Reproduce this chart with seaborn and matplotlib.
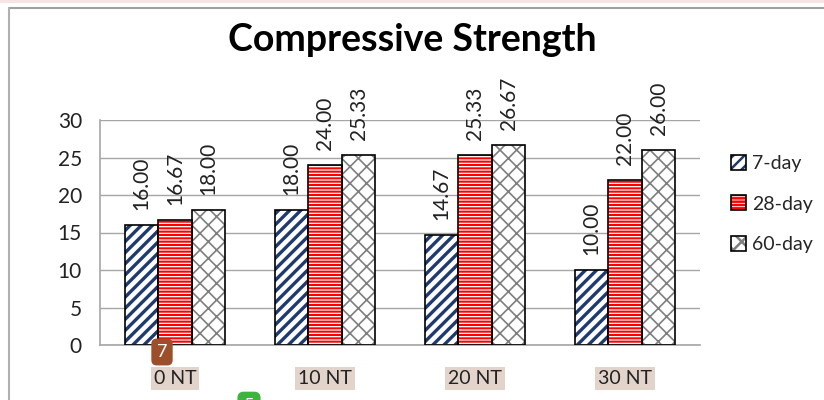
import numpy as np
import pandas as pd
import matplotlib.pyplot as plt
import seaborn as sns
from matplotlib.patches import Rectangle, Patch
from matplotlib.lines import Line2D
from matplotlib.legend_handler import HandlerTuple

mixes = ['0 NT', '10 NT', '20 NT', '30 NT']
ages = ['7-day', '28-day', '60-day']
day7 = [16.00, 18.00, 14.67, 10.00]
day28 = [16.67, 24.00, 25.33, 22.00]
day60 = [18.00, 25.33, 26.67, 26.00]

df = pd.DataFrame({
    'mix': mixes * 3,
    'age': np.repeat(ages, len(mixes)),
    'strength': day7 + day28 + day60,
})

# face colour, hatch colour, hatch pattern, hatch width per series
styles = [
    ('white', '#1F3A6E', '///', 2.4),
    ('white', '#FF0000', '-----', 1.5),
    ('white', '#7F7F7F', 'xx', 1.2),
]
GRID = '#A6A6A6'

sns.set_style('white')
plt.rcParams['font.family'] = ['Lato', 'DejaVu Sans']
plt.rcParams['hatch.linewidth'] = 1.8


def hatched(p, fc, hc, hatch, hw):
    p.set_facecolor(fc)
    p.set_edgecolor(hc)
    p.set_linewidth(0)
    p.set_hatch(hatch)
    if hasattr(p, 'set_hatch_linewidth'):
        p.set_hatch_linewidth(hw)
    return p


fig = plt.figure(figsize=(8.24, 4), dpi=100)
ax = fig.add_axes([100 / 824, 55 / 400, 600 / 824, 225 / 400])

sns.barplot(data=df, x='mix', y='strength', hue='age', hue_order=ages,
            width=0.67, gap=0, ax=ax, legend=False, errorbar=None)

handles = []
for cont, st in zip(ax.containers, styles):
    for p in cont.patches:
        hatched(p, *st)
        x, y = p.get_xy()
        ax.add_patch(Rectangle((x, y), p.get_width(), p.get_height(),
                               fill=False, edgecolor='black', linewidth=1.2, zorder=3))
    ax.bar_label(cont, fmt='%.2f', rotation=90, padding=11, fontsize=15,
                 color='#222222', clip_on=False)
    handles.append((hatched(Patch(), *st),
                    Patch(fill=False, edgecolor='black', linewidth=1.2)))

ax.set_ylim(0, 30)
ax.set_yticks(range(0, 31, 5))
ax.set_xlim(-0.5, 3.5)
ax.set_xlabel('')
ax.set_ylabel('')
ax.yaxis.grid(True, color=GRID, linewidth=1)
ax.set_axisbelow(True)
for s in ['top', 'right']:
    ax.spines[s].set_visible(False)
for s in ['left', 'bottom']:
    ax.spines[s].set_color(GRID)
    ax.spines[s].set_linewidth(1.2)
ax.tick_params(axis='y', length=6, color=GRID, labelsize=15, labelcolor='#222222', pad=7)
ax.tick_params(axis='x', length=0, labelsize=14, labelcolor='#222222', pad=18)
for lbl in ax.get_xticklabels():
    lbl.set_bbox(dict(facecolor='#E2D4CA', edgecolor='none', pad=2))

fig.legend(handles, ages, handler_map={tuple: HandlerTuple(ndivide=1, pad=0)},
           loc='center left', bbox_to_anchor=(723 / 824, 1 - 204 / 400),
           frameon=False, fontsize=14, handlelength=0.8, handleheight=0.8,
           handletextpad=0.3, labelspacing=1.2, borderaxespad=0)

fig.text(0.5, 1 - 40 / 400, 'Compressive Strength', ha='center', va='center',
         fontsize=27, fontweight='bold', color='black')

# screenshot frame bits
fig.add_artist(Rectangle((0, 1 - 3 / 400), 1, 3 / 400, transform=fig.transFigure,
                         facecolor='#F6E3E3', edgecolor='none'))
fig.add_artist(Line2D([9 / 824, 1], [1 - 8 / 400, 1 - 8 / 400], color='#A0A0A0', lw=1.5))
fig.add_artist(Line2D([9 / 824, 9 / 824], [0, 1 - 8 / 400], color='#B0B0B0', lw=1.5))

fig.text(162 / 824, 1 - 352 / 400, '7', color='white', fontsize=13, ha='center', va='center',
         bbox=dict(boxstyle='round,pad=0.3', facecolor='#9C4F2A', edgecolor='none'))
fig.text(249 / 824, 1 - 406 / 400, '5', color='white', fontsize=13, ha='center', va='center',
         bbox=dict(boxstyle='round,pad=0.35', facecolor='#3DB53D', edgecolor='none'))

fig.savefig('out.png', dpi=100)
